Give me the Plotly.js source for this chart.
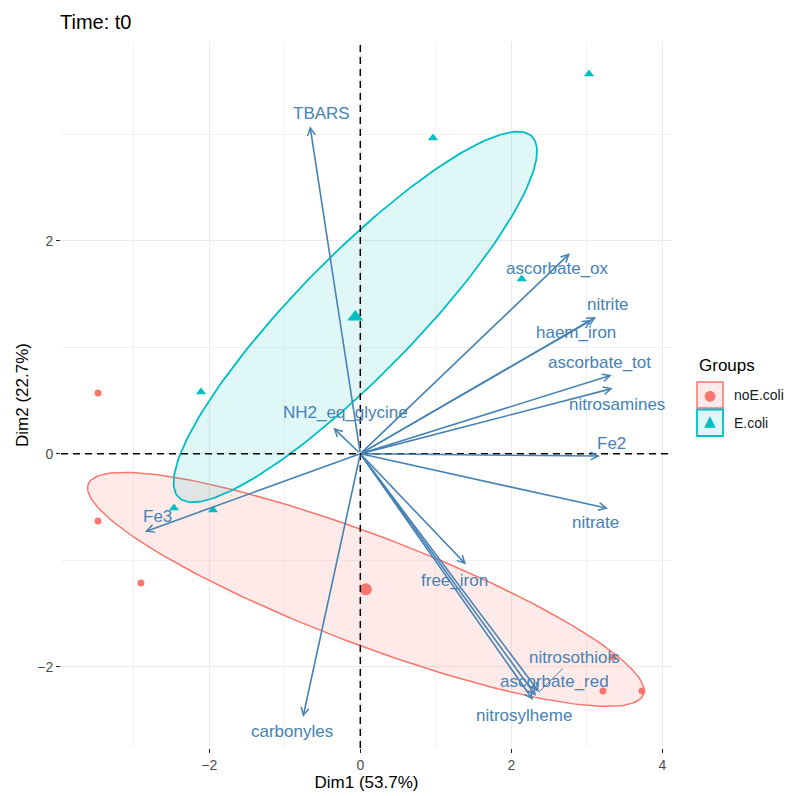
<!DOCTYPE html>
<html><head><meta charset="utf-8">
<script src="https://cdn.plot.ly/plotly-3.0.1.min.js"></script>
<style>html,body{margin:0;padding:0;background:#fff}</style>
</head><body>
<div id="chart" style="width:789px;height:796px"></div>
<script>
// ---------- data ----------
const groupNames = ['noE.coli', 'E.coli'];
const noEcoliDim1 = [-3.474, -3.474, -2.905, 3.214, 3.731, 3.347];
const noEcoliDim2 = [0.570, -0.632, -1.214, -2.228, -2.228, -1.909];
const ecoliDim1 = [3.029, 0.963, 2.138, -2.110, -2.468, -1.951];
const ecoliDim2 = [3.565, 2.964, 1.640, 0.579, -0.510, -0.529];

const varNames = ['TBARS', 'ascorbate_ox', 'nitrite', 'haem_iron', 'ascorbate_tot',
  'nitrosamines', 'Fe2', 'nitrate', 'free_iron', 'nitrosothiols', 'ascorbate_red',
  'nitrosylheme', 'NH2_eq_glycine', 'Fe3', 'carbonyles'];
const varDim1 = [-0.666, 2.777, 3.122, 3.065, 3.330, 3.343, 3.175, 3.280, 1.400,
  2.367, 2.327, 2.288, -0.358, -2.852, -0.759];
const varDim2 = [3.075, 1.882, 1.284, 1.255, 0.739, 0.614, -0.022, -0.514, -1.040,
  -2.237, -2.275, -2.312, 0.244, -0.732, -2.472];

const axisTitleX = 'Dim1 (53.7%)';
const axisTitleY = 'Dim2 (22.7%)';
const chartTitle = 'Time: t0';
const legendTitle = 'Groups';

// ---------- styling (label offsets in pixels, not data) ----------
const labelShiftX = [11.5, -12, 11.5, -16, -12, 4, 11, -12, -11.5, 0, 18.5, -9, 12, 13, -11.5];
const labelShiftY = [13, -15, 12, -12, 13, -16, 13, -14.5, -15.5, 0, 15, -15.5, 15, 15, -14];
const repelIndex = 9; // nitrosothiols: label with connector segment
const repelOffset = [35, -34.5];

const RED = '#F8766D', CYAN = '#00BFC4', STEEL = '#4682B4';
const FONT = 'Liberation Sans, Arial, sans-serif';

// ---------- confidence ellipse (as in FactoMineR coord.ellipse, bary=TRUE) ----------
function mean(a) { return a.reduce((s, v) => s + v, 0) / a.length; }
function confEllipse(xs, ys, chi2, npts) {
  const n = xs.length, mx = mean(xs), my = mean(ys);
  let sxx = 0, syy = 0, sxy = 0;
  for (let i = 0; i < n; i++) {
    sxx += (xs[i] - mx) ** 2; syy += (ys[i] - my) ** 2; sxy += (xs[i] - mx) * (ys[i] - my);
  }
  const a = sxx / (n - 1) / n, d = syy / (n - 1) / n, b = sxy / (n - 1) / n;
  const tr = a + d, det = a * d - b * b;
  const disc = Math.sqrt(tr * tr / 4 - det);
  const l1 = tr / 2 + disc, l2 = tr / 2 - disc;
  let v1x = b, v1y = l1 - a;
  if (Math.abs(b) < 1e-12) { v1x = a >= d ? 1 : 0; v1y = a >= d ? 0 : 1; }
  const nv = Math.hypot(v1x, v1y); v1x /= nv; v1y /= nv;
  const v2x = -v1y, v2y = v1x;
  const r = Math.sqrt(chi2);
  const ex = [], ey = [];
  for (let i = 0; i <= npts; i++) {
    const t = 2 * Math.PI * i / npts;
    const c = r * Math.sqrt(l1) * Math.cos(t), s = r * Math.sqrt(Math.max(l2, 0)) * Math.sin(t);
    ex.push(mx + c * v1x + s * v2x); ey.push(my + c * v1y + s * v2y);
  }
  return { x: ex, y: ey, mx: mx, my: my };
}
const CHI2_95 = 5.991465;
const ellRed = confEllipse(noEcoliDim1, noEcoliDim2, CHI2_95, 200);
const ellCyan = confEllipse(ecoliDim1, ecoliDim2, CHI2_95, 200);

const traces = [
  { x: ellRed.x, y: ellRed.y, mode: 'lines', fill: 'toself', fillcolor: 'rgba(248,118,109,0.15)',
    line: { color: RED, width: 1.5 }, hoverinfo: 'skip', showlegend: false },
  { x: ellCyan.x, y: ellCyan.y, mode: 'lines', fill: 'toself', fillcolor: 'rgba(0,191,196,0.12)',
    line: { color: CYAN, width: 1.8 }, hoverinfo: 'skip', showlegend: false },
  { x: noEcoliDim1, y: noEcoliDim2, mode: 'markers', name: groupNames[0],
    marker: { color: RED, size: 7, symbol: 'circle' }, showlegend: false },
  { x: ecoliDim1, y: ecoliDim2, mode: 'markers', name: groupNames[1],
    marker: { color: CYAN, size: 9, symbol: 'triangle-up' }, showlegend: false },
  { x: [ellRed.mx], y: [ellRed.my], mode: 'markers', marker: { color: RED, size: 12, symbol: 'circle' },
    showlegend: false, hoverinfo: 'skip' },
  { x: [ellCyan.mx], y: [ellCyan.my], mode: 'markers', marker: { color: CYAN, size: 14, symbol: 'triangle-up' },
    showlegend: false, hoverinfo: 'skip' }
];

// ---------- layout ----------
const L = 61, R = 672, T = 42, B = 748;
const px2px = v => (v - L) / (R - L);
const py2py = v => (B - v) / (B - T);

const annotations = [];
varNames.forEach((nm, i) => {
  annotations.push({ x: varDim1[i], y: varDim2[i], xref: 'x', yref: 'y', ax: 0, ay: 0,
    axref: 'x', ayref: 'y', text: '', showarrow: true, arrowhead: 5, arrowsize: 0.95,
    arrowwidth: 1.6, arrowcolor: STEEL });
});
varNames.forEach((nm, i) => {
  if (i === repelIndex) {
    annotations.push({ x: varDim1[i], y: varDim2[i], xref: 'x', yref: 'y', text: nm,
      showarrow: true, arrowhead: 0, arrowwidth: 1, arrowcolor: STEEL,
      ax: repelOffset[0], ay: repelOffset[1], font: { family: FONT, size: 17, color: STEEL } });
  } else {
    annotations.push({ x: varDim1[i], y: varDim2[i], xref: 'x', yref: 'y', text: nm,
      showarrow: false, xshift: labelShiftX[i], yshift: labelShiftY[i],
      font: { family: FONT, size: 17, color: STEEL } });
  }
});
// legend (drawn manually to get ggplot-style keys)
annotations.push({ xref: 'paper', yref: 'paper', x: px2px(697), y: py2py(365), xanchor: 'left', yanchor: 'middle',
  text: legendTitle, showarrow: false, font: { family: FONT, size: 17, color: '#000' } });
annotations.push({ xref: 'paper', yref: 'paper', x: px2px(732), y: py2py(395), xanchor: 'left', yanchor: 'middle',
  text: groupNames[0], showarrow: false, font: { family: FONT, size: 14, color: '#1a1a1a' } });
annotations.push({ xref: 'paper', yref: 'paper', x: px2px(732), y: py2py(422.5), xanchor: 'left', yanchor: 'middle',
  text: groupNames[1], showarrow: false, font: { family: FONT, size: 14, color: '#1a1a1a' } });
annotations.push({ xref: 'paper', yref: 'paper', x: px2px(710), y: py2py(395), xanchor: 'center', yanchor: 'middle',
  text: '●', showarrow: false, font: { family: 'DejaVu Sans', size: 14, color: RED } });
annotations.push({ xref: 'paper', yref: 'paper', x: px2px(710), y: py2py(421), xanchor: 'center', yanchor: 'middle',
  text: '▲', showarrow: false, font: { family: 'DejaVu Sans', size: 15, color: CYAN } });

const shapes = [
  { type: 'line', xref: 'x', yref: 'paper', x0: 0, x1: 0, y0: 0, y1: 1, layer: 'above',
    line: { color: '#000', width: 1.5, dash: '7px,5px' } },
  { type: 'line', xref: 'paper', yref: 'y', x0: 0, x1: 1, y0: 0, y1: 0, layer: 'above',
    line: { color: '#000', width: 1.5, dash: '7px,5px' } },
  { type: 'rect', xref: 'paper', yref: 'paper', x0: px2px(697), x1: px2px(723), y0: py2py(408), y1: py2py(382),
    fillcolor: 'rgba(248,118,109,0.15)', line: { color: RED, width: 1.5 } },
  { type: 'rect', xref: 'paper', yref: 'paper', x0: px2px(697), x1: px2px(723), y0: py2py(436), y1: py2py(409.5),
    fillcolor: 'rgba(0,191,196,0.12)', line: { color: CYAN, width: 1.8 } }
];

const axisCommon = {
  showline: false, zeroline: false, dtick: 2, tick0: 0,
  gridcolor: '#EBEBEB', gridwidth: 1.2,
  minor: { dtick: 1, showgrid: true, gridcolor: '#EFEFEF', gridwidth: 0.8 },
  ticks: 'outside', ticklen: 4, tickwidth: 1.5, tickcolor: '#222',
  tickfont: { family: FONT, size: 14, color: '#4D4D4D' },
  automargin: false
};

const layout = {
  width: 789, height: 796,
  margin: { l: L, r: 789 - R, t: T, b: 796 - B, pad: 0 },
  paper_bgcolor: '#fff', plot_bgcolor: '#fff',
  font: { family: FONT },
  showlegend: false,
  title: { text: chartTitle, xref: 'container', yref: 'container', x: 60 / 789, xanchor: 'left',
    y: 1 - 22 / 796, yanchor: 'middle', font: { family: FONT, size: 20, color: '#000' } },
  xaxis: Object.assign({}, axisCommon, { range: [-3.964, 4.128],
    title: { text: axisTitleX, font: { family: FONT, size: 17, color: '#000' }, standoff: 4 } }),
  yaxis: Object.assign({}, axisCommon, { range: [-2.763, 3.866],
    title: { text: axisTitleY, font: { family: FONT, size: 17, color: '#000' }, standoff: 4 } }),
  annotations: annotations,
  shapes: shapes
};

Plotly.newPlot('chart', traces, layout, { displayModeBar: false, staticPlot: true });
</script>
</body></html>
